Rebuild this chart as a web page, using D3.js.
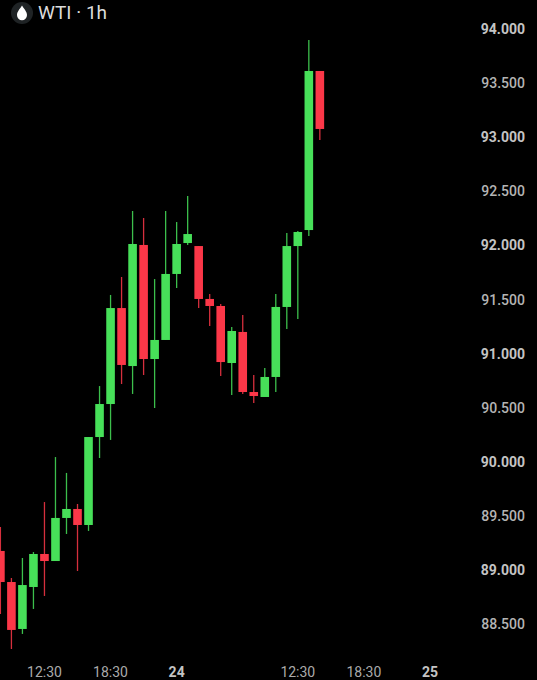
<!DOCTYPE html>
<html>
<head>
<meta charset="utf-8">
<style>
html,body{margin:0;padding:0;background:#000;overflow:hidden}
svg{display:block}
text{font-family:Roboto,sans-serif}
</style>
<script src="https://cdn.jsdelivr.net/npm/d3@7/dist/d3.min.js"></script>
</head>
<body>
<svg id="chart" width="537" height="680"></svg>
<script>
const opens  = [89.176,88.889,88.455,88.843,89.148,89.083,89.481,89.564,89.416,90.229,90.534,91.421,90.885,92.004,90.950,91.126,91.736,92.022,91.994,91.505,91.440,90.913,91.200,90.645,90.599,90.784,91.431,91.994,92.142,93.612];
const highs  = [89.398,88.926,89.111,89.166,89.628,90.044,89.897,89.610,90.229,90.700,91.542,91.708,92.318,92.253,91.689,92.318,92.216,92.457,91.994,91.551,91.458,91.246,91.357,90.802,90.867,91.551,92.115,92.133,93.898,93.612];
const lows   = [88.593,88.270,88.409,88.640,88.760,89.083,89.333,88.991,89.361,90.035,90.202,90.719,90.627,90.802,90.497,91.126,91.606,92.004,91.421,91.255,90.793,90.617,90.627,90.543,90.599,90.645,91.227,91.320,92.087,92.974];
const closes = [88.889,88.446,88.861,89.148,89.083,89.481,89.564,89.416,90.229,90.534,91.421,90.895,92.013,90.950,91.126,91.736,92.013,92.105,91.505,91.440,90.922,91.209,90.645,90.608,90.784,91.431,91.994,92.124,93.612,93.076];
const downFlags = [1,1,0,0,1,0,0,1,0,0,0,1,0,1,0,0,0,0,1,1,1,0,1,1,0,0,0,0,0,1];
const priceTicks = [94,93.5,93,92.5,92,91.5,91,90.5,90,89.5,89,88.5];
const timeTickIndex = [4,10,16,27,33,39];
const timeTickLabels = ["12:30","18:30","24","12:30","18:30","25"];
const timeTickBold = [false,false,true,false,false,true];
const title = "WTI · 1h";

const svg = d3.select("#chart");
const y = d3.scaleLinear().domain([88.5,94]).range([624.1,29]);
const x = d3.scaleLinear().domain([0,39]).range([0.4,430]);
const bodyW = 8.6, wickW = 1.3;
const up = "#47e059", down = "#fb3748";

const candles = opens.map((o,i)=>({i,o,h:highs[i],l:lows[i],c:closes[i],d:downFlags[i]}));
const g = svg.append("g");
g.selectAll("line.wick").data(candles).join("line").attr("class","wick")
  .attr("x1",d=>x(d.i)).attr("x2",d=>x(d.i))
  .attr("y1",d=>y(d.h)).attr("y2",d=>y(d.l))
  .attr("stroke",d=>d.d?down:up).attr("stroke-opacity",0.85).attr("stroke-width",wickW);
g.selectAll("rect.body").data(candles).join("rect").attr("class","body")
  .attr("x",d=>x(d.i)-bodyW/2).attr("width",bodyW)
  .attr("y",d=>y(Math.max(d.o,d.c)))
  .attr("height",d=>Math.abs(y(d.o)-y(d.c)))
  .attr("fill",d=>d.d?down:up);

const boldPrice = v => Number.isInteger(v);
svg.append("g").selectAll("text").data(priceTicks).join("text")
  .attr("x",525).attr("y",d=>y(d)).attr("dy","0.36em").attr("text-anchor","end")
  .attr("font-size",14).attr("font-weight",d=>boldPrice(d)?700:500)
  .attr("fill",d=>boldPrice(d)?"#c4c4c4":"#b4b4b4")
  .text(d=>d3.format(".3f")(d));

svg.append("g").selectAll("text").data(timeTickIndex).join("text")
  .attr("x",d=>x(d)).attr("y",677).attr("text-anchor","middle")
  .attr("font-size",14).attr("font-weight",(d,i)=>timeTickBold[i]?700:400)
  .attr("fill",(d,i)=>timeTickBold[i]?"#c4c4c4":"#aaaaaa")
  .text((d,i)=>timeTickLabels[i]);

svg.append("circle").attr("cx",22).attr("cy",13).attr("r",11).attr("fill","#1f2325");
svg.append("path").attr("transform","translate(22,13)")
  .attr("d","M0,-7.5 C2,-4 5,-1.5 5,2 A5,5.2 0 0 1 -5,2 C-5,-1.5 -2,-4 0,-7.5 Z")
  .attr("fill","#fff");
svg.append("text").attr("x",38).attr("y",19).attr("font-size",19).attr("fill","#dcdcdc").text(title);
</script>
</body>
</html>
